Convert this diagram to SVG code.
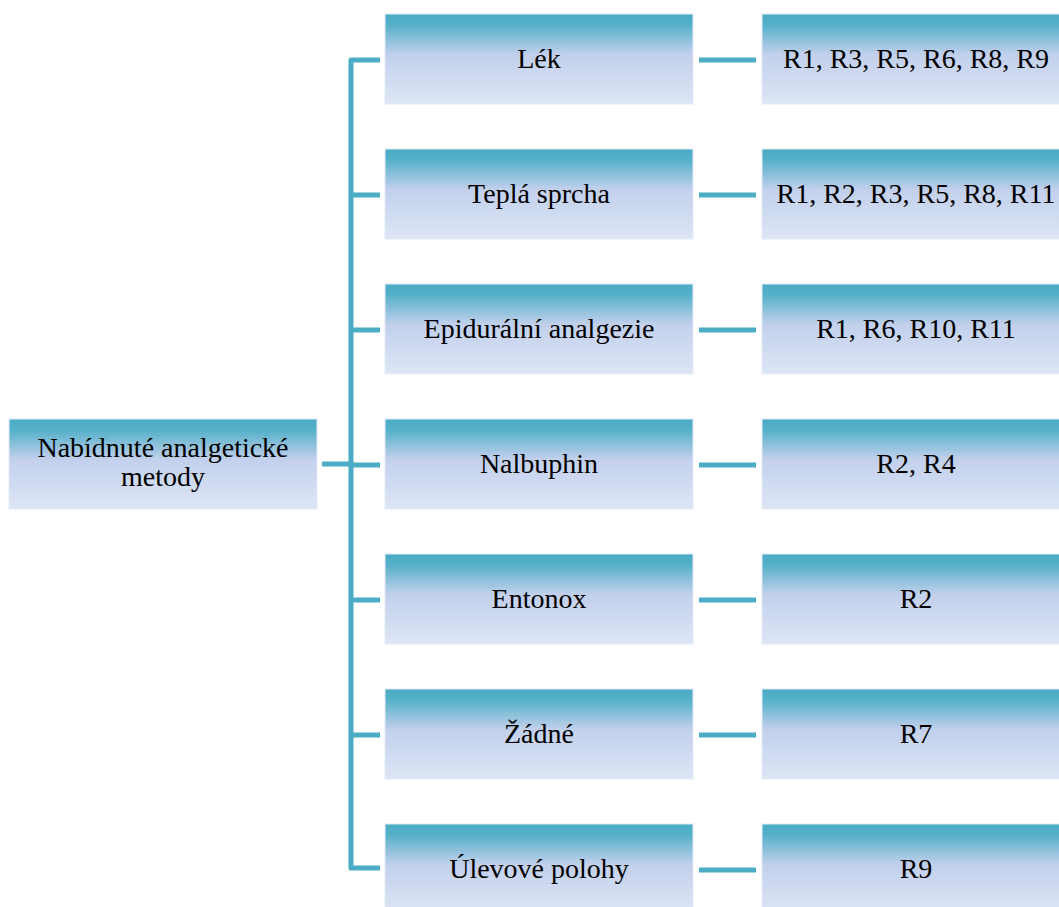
<svg xmlns="http://www.w3.org/2000/svg" width="1059" height="907" viewBox="0 0 1059 907">
<style>
.box{fill:url(#g);stroke:#e4ebf7;stroke-width:1}
.t{font-family:"Liberation Serif","Times New Roman",serif;font-size:28px;fill:#000;text-anchor:middle}
.c{fill:none;stroke:#4bacc6;stroke-width:5;stroke-linejoin:round}
</style>
<defs>
<linearGradient id="g" x1="0" y1="0" x2="0" y2="1">
<stop offset="0" stop-color="#4aabc5"/>
<stop offset="0.12" stop-color="#55b0c9"/>
<stop offset="0.45" stop-color="#c2d0ec"/>
<stop offset="1" stop-color="#dde6f5"/>
</linearGradient>
</defs>
<rect width="1059" height="907" fill="#fff"/>
<g id="connectors">
<path class="c" d="M380,60 H351 V868 H380"/>
<path class="c" d="M351,195 H380 M351,330 H380 M351,465 H380 M351,600 H380 M351,735 H380"/>
<path class="c" d="M322,464 H351"/>
<path class="c" d="M699,60 H756 M699,195 H756 M699,330 H756 M699,465 H756 M699,600 H756 M699,735 H756 M699,870 H756"/>
</g>
<g id="root"><rect class="box" x="9" y="419" width="308" height="90"/><text class="t" x="163" y="457">Nabídnuté analgetické</text><text class="t" x="163" y="486">metody</text></g>
<g id="m1"><rect class="box" x="385" y="14" width="308" height="90"/><text class="t" x="539" y="68">Lék</text></g>
<g id="m2"><rect class="box" x="385" y="149" width="308" height="90"/><text class="t" x="539" y="203">Teplá sprcha</text></g>
<g id="m3"><rect class="box" x="385" y="284" width="308" height="90"/><text class="t" x="539" y="338">Epidurální analgezie</text></g>
<g id="m4"><rect class="box" x="385" y="419" width="308" height="90"/><text class="t" x="539" y="473">Nalbuphin</text></g>
<g id="m5"><rect class="box" x="385" y="554" width="308" height="90"/><text class="t" x="539" y="608">Entonox</text></g>
<g id="m6"><rect class="box" x="385" y="689" width="308" height="90"/><text class="t" x="539" y="743">Žádné</text></g>
<g id="m7"><rect class="box" x="385" y="824" width="308" height="90"/><text class="t" x="539" y="878">Úlevové polohy</text></g>
<g id="r1"><rect class="box" x="762" y="14" width="308" height="90"/><text class="t" x="916" y="68">R1, R3, R5, R6, R8, R9</text></g>
<g id="r2"><rect class="box" x="762" y="149" width="308" height="90"/><text class="t" x="916" y="203">R1, R2, R3, R5, R8, R11</text></g>
<g id="r3"><rect class="box" x="762" y="284" width="308" height="90"/><text class="t" x="916" y="338">R1, R6, R10, R11</text></g>
<g id="r4"><rect class="box" x="762" y="419" width="308" height="90"/><text class="t" x="916" y="473">R2, R4</text></g>
<g id="r5"><rect class="box" x="762" y="554" width="308" height="90"/><text class="t" x="916" y="608">R2</text></g>
<g id="r6"><rect class="box" x="762" y="689" width="308" height="90"/><text class="t" x="916" y="743">R7</text></g>
<g id="r7"><rect class="box" x="762" y="824" width="308" height="90"/><text class="t" x="916" y="878">R9</text></g>
</svg>
